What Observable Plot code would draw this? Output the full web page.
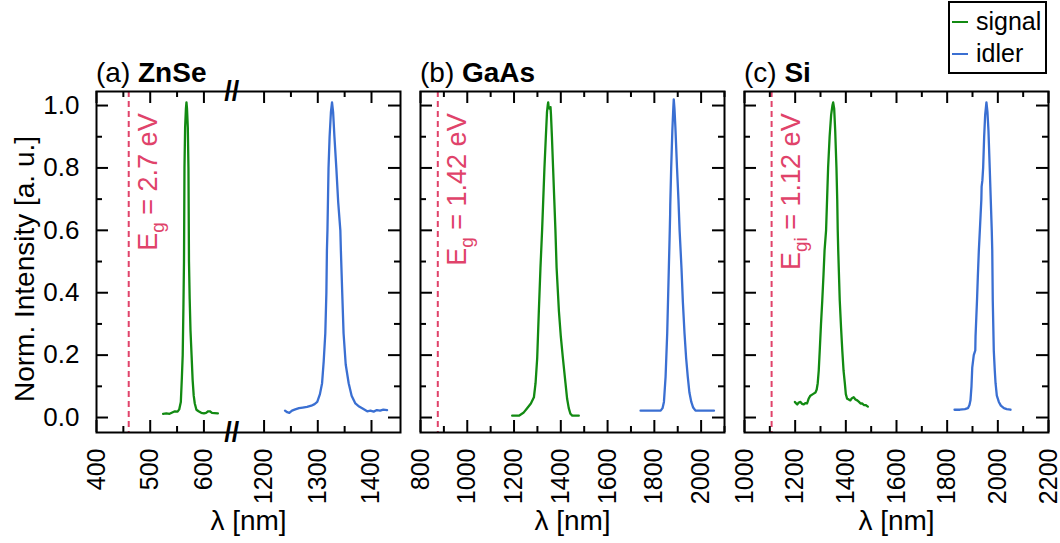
<!DOCTYPE html>
<html><head><meta charset="utf-8">
<script src="https://cdn.jsdelivr.net/npm/d3@7"></script>
<script src="https://cdn.jsdelivr.net/npm/@observablehq/plot@0.6"></script>
<style>
body{margin:0;background:#fff;}
#root{position:relative;width:1060px;height:543px;font-family:"Liberation Sans",Arial,sans-serif;overflow:hidden;}
.panel{position:absolute;top:0;}
#overlay{position:absolute;left:0;top:0;pointer-events:none;}
</style></head>
<body><div id="root"></div>
<script>
// ---------- data ----------
const yDomain = [-0.048, 1.045];
const yMajor = [0, 0.2, 0.4, 0.6, 0.8, 1.0];
const yMinor = [0.1, 0.3, 0.5, 0.7, 0.9];

const panelLetters = ["(a) ", "(b) ", "(c) "];
const panelMaterials = ["ZnSe", "GaAs", "Si"];
const gapNm = [460, 874, 1107];
const gapSub = ["g", "g", "gi"];
const gapEv = ["2.7", "1.42", "1.12"];
const legendLabels = ["signal", "idler"];

const znseDomain = [400, 1454];
const znseBreak = [652, 1140];
const znseMajor = [400, 500, 600, 1200, 1300, 1400];
const znseMinor = [450, 550, 1250, 1350];
const gaasDomain = [800, 2100];
const gaasMajor = [800, 1000, 1200, 1400, 1600, 1800, 2000];
const gaasMinor = [900, 1100, 1300, 1500, 1700, 1900, 2100];
const siDomain = [1000, 2200];
const siMajor = [1000, 1200, 1400, 1600, 1800, 2000, 2200];
const siMinor = [1100, 1300, 1500, 1700, 1900, 2100];

const znseSignal = [[524,0.012],[530,0.013],[536,0.012],[541,0.016],[546,0.02],[551,0.019],[554,0.026],[557,0.05],[559,0.13],[560.5,0.2],[561.8,0.35],[562.9,0.5],[563.8,0.8],[565,0.93],[566.5,0.99],[567.5,1.01],[568.5,0.99],[570,0.93],[571.2,0.8],[572.2,0.5],[573.5,0.38],[575,0.28],[577,0.2],[579,0.12],[581,0.07],[583,0.045],[586,0.025],[590,0.02],[595,0.015],[600,0.013],[604,0.015],[608,0.02],[611,0.02],[615,0.015],[620,0.014],[626,0.013]];
const znseIdler = [[1239,0.022],[1243,0.017],[1247,0.015],[1252,0.022],[1258,0.026],[1265,0.03],[1272,0.032],[1280,0.034],[1288,0.038],[1294,0.043],[1299,0.05],[1304,0.075],[1308,0.11],[1311,0.18],[1314,0.27],[1316,0.4],[1317,0.535],[1318,0.6],[1320,0.8],[1322,0.9],[1324.5,0.98],[1326.5,1.01],[1328.5,0.98],[1331,0.9],[1334.5,0.8],[1338,0.69],[1342,0.6],[1343,0.535],[1345.5,0.4],[1348,0.27],[1352,0.17],[1357.5,0.11],[1363,0.07],[1370,0.045],[1377,0.035],[1385,0.027],[1392,0.02],[1398,0.022],[1404,0.019],[1410,0.024],[1416,0.022],[1422,0.025],[1429,0.024]];
const gaasSignal = [[1192,0.006],[1221,0.006],[1240,0.015],[1256,0.03],[1272,0.045],[1285,0.065],[1292,0.11],[1299,0.19],[1306,0.34],[1313,0.48],[1320,0.6],[1325,0.7],[1330,0.8],[1336,0.9],[1341,0.98],[1344,1.0],[1346,1.01],[1348,0.995],[1352,0.99],[1356,0.995],[1358,0.97],[1362,0.9],[1367,0.8],[1372,0.7],[1377,0.6],[1382,0.48],[1392,0.34],[1400,0.26],[1409,0.19],[1420,0.11],[1427,0.06],[1434,0.03],[1441,0.012],[1449,0.006],[1477,0.006]];
const gaasIdler = [[1741,0.022],[1827,0.022],[1835,0.03],[1841,0.05],[1848,0.13],[1855,0.27],[1862,0.48],[1865,0.57],[1866,0.6],[1867.5,0.65],[1868,0.68],[1872,0.8],[1877,0.92],[1881,0.99],[1883,1.02],[1886,0.99],[1890,0.93],[1897,0.8],[1903,0.7],[1908,0.6],[1916,0.48],[1922,0.37],[1929,0.27],[1936,0.19],[1943,0.13],[1950,0.08],[1958,0.05],[1966,0.032],[1976,0.022],[2055,0.022]];
const siSignal = [[1199,0.05],[1204,0.045],[1208,0.042],[1214,0.048],[1221,0.05],[1227,0.044],[1234,0.042],[1240,0.046],[1247,0.045],[1253,0.06],[1260,0.07],[1270,0.075],[1280,0.08],[1285,0.09],[1289,0.11],[1293,0.15],[1297,0.215],[1302,0.3],[1307,0.375],[1312,0.46],[1316,0.535],[1322,0.6],[1326,0.7],[1330,0.8],[1336,0.9],[1342,0.97],[1347,1.0],[1350,1.01],[1354,0.99],[1358,0.92],[1363,0.8],[1366,0.7],[1368,0.6],[1370,0.535],[1376,0.375],[1381,0.29],[1386,0.215],[1391,0.15],[1396,0.11],[1400,0.075],[1405,0.06],[1411,0.058],[1418,0.055],[1424,0.062],[1431,0.065],[1438,0.058],[1445,0.055],[1452,0.05],[1458,0.045],[1465,0.045],[1471,0.04],[1478,0.04],[1487,0.035]];
const siIdler = [[1829,0.025],[1850,0.025],[1870,0.027],[1882,0.03],[1888,0.04],[1892,0.055],[1896,0.1],[1899,0.16],[1905,0.2],[1911,0.215],[1912,0.26],[1915,0.32],[1918,0.38],[1921,0.45],[1925,0.535],[1929,0.6],[1932,0.65],[1935,0.7],[1936,0.74],[1939,0.76],[1942,0.8],[1946,0.9],[1950,0.97],[1955,1.01],[1959,0.98],[1963,0.92],[1968,0.8],[1972,0.7],[1976,0.6],[1978,0.535],[1980,0.375],[1984,0.215],[1988,0.15],[1991,0.11],[1996,0.07],[2004,0.05],[2012,0.038],[2024,0.03],[2035,0.027],[2050,0.025]];

// ---------- style / layout ----------
const H = 543, mTop = 91, mBottom = 111;
const frameH = H - mTop - mBottom;
const red = "#e0436a", green = "#128a12", blue = "#3a6fd2";
const MAJ = 12, MIN = 6;
const FONT = "Liberation Sans, Arial, sans-serif";
const ident = v => v;
// broken axis for ZnSe: collapse the gap between znseBreak[0] and znseBreak[1]
const gapW = znseBreak[1] - znseBreak[0];
const brk = v => v >= znseBreak[1] ? v - gapW : v;
const unbrk = v => v > znseBreak[0] ? v + gapW : v;

function tickMarks(fw, xf, xMaj, xMin) {
  const s = {stroke: "#000", strokeWidth: 2};
  return [
    Plot.tickY(yMajor, {y: d => d, insetRight: fw - MAJ, ...s}),
    Plot.tickY(yMinor, {y: d => d, insetRight: fw - MIN, ...s}),
    Plot.tickY(yMajor, {y: d => d, insetLeft: fw - MAJ, ...s}),
    Plot.tickY(yMinor, {y: d => d, insetLeft: fw - MIN, ...s}),
    Plot.tickX(xMaj, {x: d => xf(d), insetTop: frameH - MAJ, ...s}),
    Plot.tickX(xMin, {x: d => xf(d), insetTop: frameH - MIN, ...s}),
    Plot.tickX(xMaj, {x: d => xf(d), insetBottom: frameH - MAJ, ...s}),
    Plot.tickX(xMin, {x: d => xf(d), insetBottom: frameH - MIN, ...s})
  ];
}

function makePanel(i, cfg) {
  const fw = cfg.width - cfg.marginLeft - cfg.marginRight;
  const xf = cfg.xf || ident, xinv = cfg.xinv || ident;
  const marks = [
    Plot.ruleX([gapNm[i]], {x: d => xf(d), stroke: red, strokeWidth: 2, strokeDasharray: "6,4"}),
    Plot.text([gapNm[i]], {x: d => xf(d), y: () => 0.975, text: () => `E${gapSub[i]} = ${gapEv[i]} eV`,
      rotate: -90, textAnchor: "end", lineAnchor: "middle", dx: 20, fill: red, fontSize: 27}),
    Plot.line(cfg.signal, {x: d => xf(d[0]), y: d => d[1], stroke: green, strokeWidth: 2.3}),
    Plot.line(cfg.idler, {x: d => xf(d[0]), y: d => d[1], stroke: blue, strokeWidth: 2.3}),
    Plot.frame({stroke: "#000", strokeWidth: 2}),
    ...tickMarks(fw, xf, cfg.major, cfg.minor),
    Plot.axisX({ticks: cfg.major.map(xf), tickSize: 0, tickPadding: 16, tickRotate: -90, label: null,
      tickFormat: v => d3.format("d")(xinv(v)), fontSize: 25}),
    Plot.text(["λ [nm]"], {frameAnchor: "bottom", dy: 89, textAnchor: "middle", lineAnchor: "middle", text: d => d, fontSize: 28})
  ];
  if (cfg.yAxis) {
    marks.push(Plot.axisY({ticks: yMajor, tickSize: 0, tickPadding: 17, tickFormat: d3.format(".1f"), label: null, fontSize: 26}));
    marks.push(Plot.text(["Norm. Intensity [a. u.]"], {frameAnchor: "left", rotate: -90, dx: -71, dy: 7,
      textAnchor: "middle", lineAnchor: "middle", text: d => d, fontSize: 28}));
  }
  if (cfg.breakAt !== undefined) {
    marks.push(Plot.text(yDomain, {x: () => cfg.breakAt, y: d => d, text: () => "//", fontWeight: "bold", fontSize: 27, lineAnchor: "middle"}));
  }
  const svg = Plot.plot({
    width: cfg.width, height: H,
    marginTop: mTop, marginBottom: mBottom, marginLeft: cfg.marginLeft, marginRight: cfg.marginRight,
    style: {fontFamily: FONT, fontSize: "26px", color: "#000", background: "transparent", overflow: "visible", maxWidth: "none"},
    x: {domain: cfg.domain.map(xf)},
    y: {domain: yDomain, axis: cfg.yAxis ? undefined : null},
    marks
  });
  // subscript in band-gap labels
  svg.querySelectorAll("text").forEach(t => {
    const m = t.textContent.match(/^E(gi|g) = (.*)$/);
    if (m && t.childElementCount === 0) {
      t.textContent = "";
      const ns = "http://www.w3.org/2000/svg";
      const a = document.createElementNS(ns, "tspan"); a.textContent = "E";
      const b = document.createElementNS(ns, "tspan"); b.textContent = m[1];
      b.setAttribute("dy", "7"); b.setAttribute("font-size", "19");
      const c = document.createElementNS(ns, "tspan"); c.textContent = " = " + m[2];
      c.setAttribute("dy", "-7");
      t.append(a, b, c);
    }
  });
  const div = document.createElement("div");
  div.className = "panel";
  div.style.left = cfg.left + "px";
  div.style.width = cfg.width + "px";
  div.appendChild(svg);
  document.getElementById("root").appendChild(div);
}

makePanel(0, {left: 0, width: 410, marginLeft: 96, marginRight: 10, yAxis: true,
  domain: znseDomain, xf: brk, xinv: unbrk, major: znseMajor, minor: znseMinor,
  signal: znseSignal, idler: znseIdler, breakAt: znseBreak[0]});
makePanel(1, {left: 410, width: 320, marginLeft: 10, marginRight: 6, yAxis: false,
  domain: gaasDomain, major: gaasMajor, minor: gaasMinor, signal: gaasSignal, idler: gaasIdler});
makePanel(2, {left: 730, width: 330, marginLeft: 14, marginRight: 12, yAxis: false,
  domain: siDomain, major: siMajor, minor: siMinor, signal: siSignal, idler: siIdler});

// ---------- titles and legend ----------
const ov = d3.select("#root").append("svg").attr("id", "overlay").attr("width", 1060).attr("height", 543)
  .attr("font-family", FONT);
const titleX = [96, 420, 744];
titleX.forEach((x, i) => {
  const t = ov.append("text").attr("x", x).attr("y", 82).attr("font-size", 28).attr("fill", "#000");
  t.append("tspan").text(panelLetters[i]);
  t.append("tspan").attr("font-weight", "bold").text(panelMaterials[i]);
});
const lg = ov.append("g");
lg.append("rect").attr("x", 949).attr("y", 2).attr("width", 97).attr("height", 71)
  .attr("fill", "#fff").attr("stroke", "#000").attr("stroke-width", 2);
[green, blue].forEach((c, i) => {
  const y = 22 + i * 32;
  lg.append("line").attr("x1", 952).attr("x2", 968).attr("y1", y).attr("y2", y).attr("stroke", c).attr("stroke-width", 2);
  lg.append("text").attr("x", 976).attr("y", y + 8).attr("font-size", 25).attr("fill", "#000").text(legendLabels[i]);
});
</script>
</body></html>
